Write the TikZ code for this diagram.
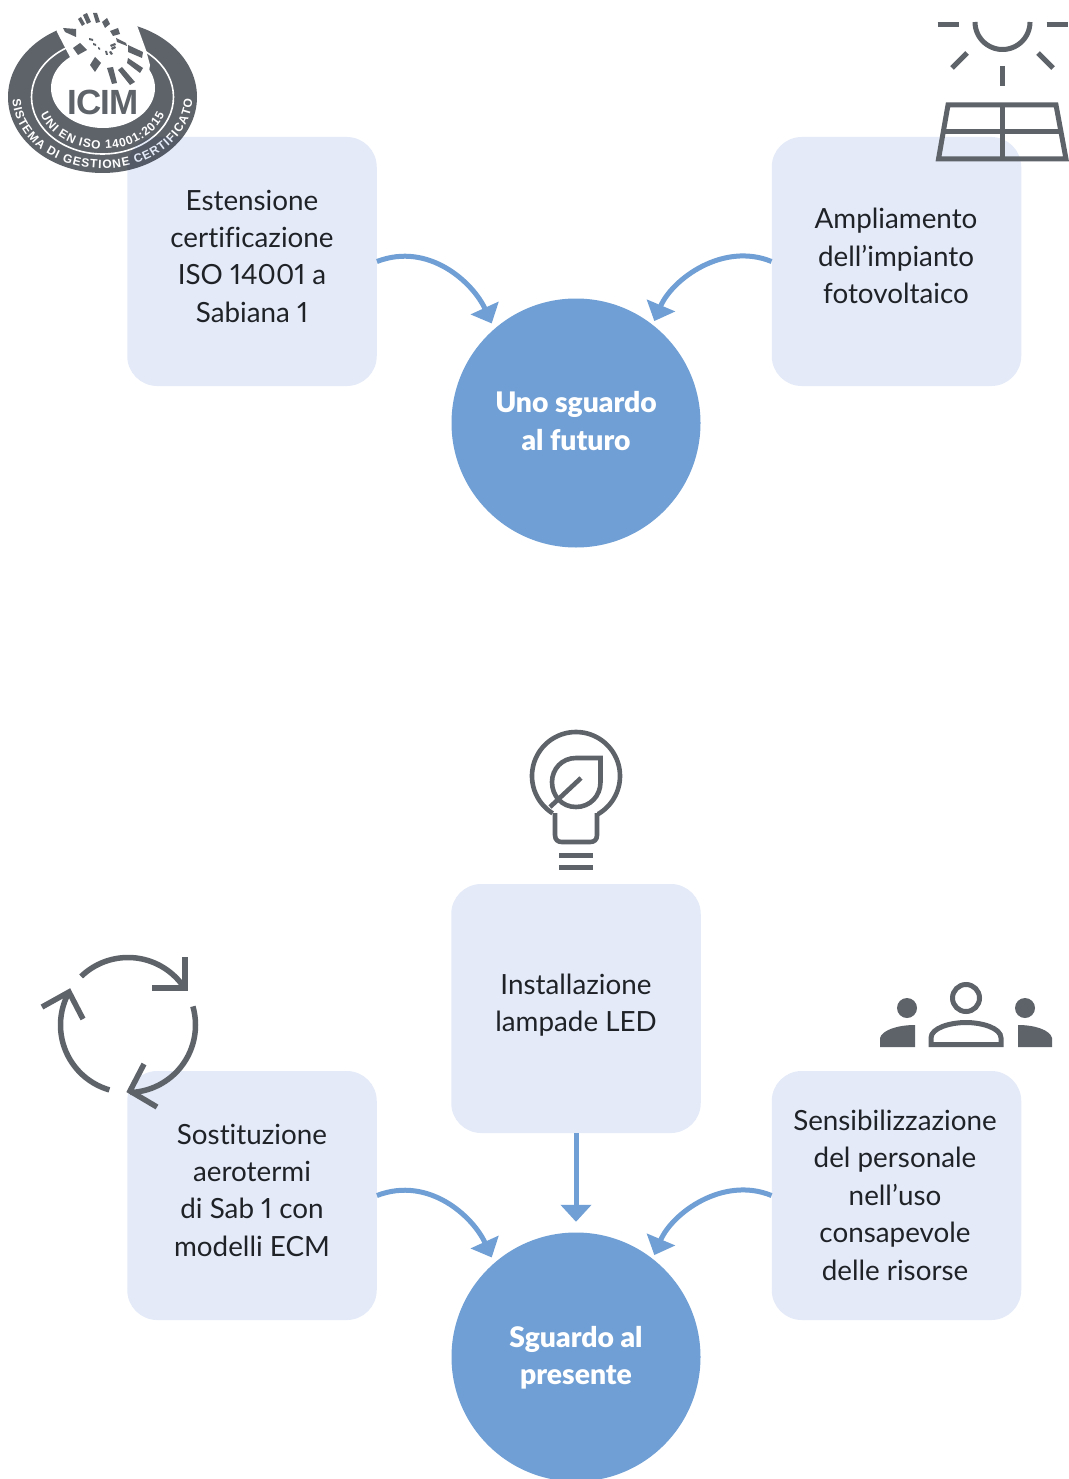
\documentclass[tikz,border=0pt]{standalone}
\usepackage{fontspec}
\usepackage{tikz}
\usetikzlibrary{arrows.meta,decorations.text}
\setmainfont{Lato}[Numbers=Proportional,Ligatures=NoCommon,BoldFont=Lato Black]
\newfontfamily\logofont{Liberation Sans}[BoldFont=* Bold]
\definecolor{boxc}{HTML}{E4EAF8}
\definecolor{blu}{HTML}{6F9FD4}
\definecolor{gr}{HTML}{5E6369}
\definecolor{ink}{HTML}{1F2328}
\newcommand\ms{\rule[-7pt]{0pt}{27pt}}
\newcommand\ltxt{\logofont\bfseries\fontsize{12}{12}\selectfont}
\newcommand\mtxt{\logofont\bfseries\fontsize{12}{12}\selectfont}
\tikzset{
 x=1pt,y=-1pt,
 boxn/.style={fill=boxc,rounded corners=30pt,minimum width=249.5pt,minimum height=249pt,inner sep=0pt},
 hub/.style={circle,fill=blu,minimum size=249pt,inner sep=0pt},
 lab/.style={align=center,text=ink,font=\fontsize{27.8}{37.4}\selectfont,inner sep=0pt},
 hublab/.style={align=center,text=white,font=\bfseries\fontsize{28.3}{37.4}\selectfont,inner sep=0pt},
 conn/.style={draw=blu,line width=5pt,-{Triangle[length=17pt,width=30pt]}},
 icon/.style={draw=gr,line width=5pt},
}
\begin{document}
\begin{tikzpicture}
\useasboundingbox (0,0) rectangle (1068,1479);
\fill[white] (0,0) rectangle (1068,1479);
% ---- ICIM logo
\fill[gr] (102.5,97) ellipse[x radius=94.5pt,y radius=76pt];
\draw[white,line width=1.6pt] (102.5,97) ellipse[x radius=71pt,y radius=57pt];
\fill[white] (103,88) ellipse[x radius=52pt,y radius=40pt];
\fill[white] (57,32) -- (72,61) -- (100,90) -- (148,78) -- (150,65) -- (146,50) -- (138,28) -- (130,5) -- (50,5) -- cycle;
\fill[gr] (63,28) -- (76,29) -- (76,37) -- (65,32) -- cycle;
\fill[gr] (73,48) -- (80,43) -- (87,50) -- (78,55) -- cycle;
\fill[gr] (95,57) -- (101,63) -- (95,72) -- (90,65) -- cycle;
\fill[gr] (78,19) -- (81,17) -- (85,24) -- (82,26) -- cycle;
\fill[gr] (83,15) -- (87,13) -- (91,22) -- (87,24) -- cycle;
\fill[gr] (93,13) -- (97,13) -- (100,22) -- (96,23) -- cycle;
\fill[gr] (102,22) -- (107,18) -- (110,24) -- (105,28) -- cycle;
\fill[gr] (110,31) -- (118,28) -- (120,34) -- (113,36) -- cycle;
\fill[gr] (116,38) -- (126,43) -- (127,46) -- (117,42) -- cycle;
\fill[gr] (128,45) -- (143,52) -- (142,58) -- (128,52) -- cycle;
\fill[gr] (128,58) -- (143,68) -- (140,73) -- (127,63) -- cycle;
\fill[gr] (122,67) -- (135,82) -- (130,85) -- (118,70) -- cycle;
\fill[gr] (107,68) -- (113,67) -- (117,83) -- (112,84) -- cycle;
\fill[gr] (89,38) -- (93,39) -- (93,41) -- (89,40) -- cycle;
\fill[gr] (93,43) -- (96,44) -- (96,46) -- (93,45) -- cycle;
\fill[gr] (98,47) -- (100,48) -- (100,50) -- (98,49) -- cycle;
\fill[gr] (105,51) -- (107,51) -- (108,55) -- (106,55) -- cycle;
\fill[gr] (109,52) -- (111,51) -- (113,54) -- (111,55) -- cycle;
\fill[gr] (111,48) -- (115,46) -- (116,48) -- (112,50) -- cycle;
\fill[gr] (110,45) -- (115,43) -- (116,45) -- (111,47) -- cycle;
\node[text=gr,inner sep=0pt] (icimtext) at (103,102.5) {\logofont\bfseries\fontsize{35}{35}\selectfont\addfontfeature{LetterSpace=-3}ICIM};
\path[decorate,decoration={text along path,text align=fit to path,text={|\ltxt\color{white}|SISTEMA DI GESTIONE CERTIFICATO}}]
  plot[domain=2:178,samples=70] ({102.5-90*cos(\x)},{97+71.5*sin(\x)});
\path[decorate,decoration={text along path,text align=fit to path,text={|\mtxt\color{white}|UNI EN ISO 14001:2015}}]
  plot[domain=20:160,samples=60] ({102.5-66*cos(\x)},{97+52*sin(\x)});
% ---- boxes and hubs
\node[boxn,blend mode=multiply] (certbox) at (252,261.5) {};
\node[boxn] (pvbox) at (896.5,261.5) {};
\node[boxn] (ledbox) at (576,1008.5) {};
\node[boxn] (aerobox) at (252,1195.5) {};
\node[boxn] (staffbox) at (896.5,1195.5) {};
\node[hub] (future) at (576,423) {};
\node[hub] (present) at (576,1357) {};
% ---- texts
\node[lab] (certtxt) at (252,259.5) {\ms Estensione\\certificazione\\ISO 14001 a\\Sabiana 1\ms};
\node[lab] (pvtxt) at (896,259.5) {\ms Ampliamento\\dell’impianto\\fotovoltaico\ms};
\node[lab] (ledtxt) at (576,1006.5) {\ms Installazione\\lampade LED\ms};
\node[lab] (aerotxt) at (252,1193.5) {\ms Sostituzione\\aerotermi\\di Sab 1 con\\modelli ECM\ms};
\node[lab] (stafftxt) at (895,1198.5) {\ms Sensibilizzazione\\del personale\\nell’uso\\consapevole\\delle risorse\ms};
\node[hublab] (futuretxt) at (576,424.5) {\ms Uno sguardo\\al futuro\ms};
\node[hublab] (presenttxt) at (576,1359) {\ms Sguardo al\\presente\ms};
% ---- connectors
\draw[conn,shorten >=6pt] (certbox.east) .. controls +(52,-20) and +(-21,-46) .. (future.131);
\draw[conn,shorten >=4pt] (pvbox.west) .. controls +(-49,-20) and +(19,-45) .. (future.52);
\draw[conn,shorten >=6pt] (aerobox.east) .. controls +(52,-20) and +(-21,-46) .. (present.131);
\draw[conn,shorten >=4pt] (staffbox.west) .. controls +(-49,-20) and +(19,-45) .. (present.52);
\draw[conn,shorten >=10.5pt] (ledbox.south) -- (present.north);
% ---- solar icon
\draw[icon] plot[domain=0:180,samples=40] ({1002.5+27.5*cos(\x)},{22+27.5*sin(\x)});
\draw[icon] (937.5,25) -- (958.5,25);
\draw[icon] (1046.5,25) -- (1067.5,25);
\draw[icon] (967,53) -- (952,68);
\draw[icon] (1038,53) -- (1053,68);
\draw[icon] (1002.5,66) -- (1002.5,86);
\draw[icon] (948,105) -- (1056,105) -- (1066,159) -- (938.5,159) -- cycle;
\draw[icon] (943,132) -- (1062,132);
\draw[icon] (1002.5,105) -- (1002.5,159);
% ---- bulb icon
\draw[icon,line width=4.6pt] (555,813) -- (555,835) .. controls (555,840) and (558,842) .. (562,842) -- (590,842) .. controls (594,842) and (597,840) .. (597,835) -- (597,813);
\draw[icon,line width=4.6pt] plot[domain=122:420,samples=80] ({576+44*cos(\x)},{776+44*sin(\x)});
\draw[icon,line width=4.6pt,line join=miter] (600.5,758) -- (576,758) .. controls (562,758) and (552,769) .. (552,782) .. controls (552,796) and (562,807) .. (576,807) .. controls (590,807) and (600.5,796) .. (600.5,782) -- cycle;
\draw[icon,line width=4.6pt] (550,807) -- (581,778);
\draw[icon] (559,855) -- (593,855);
\draw[icon] (559,867) -- (593,867);
% ---- recycle icon
\draw[icon,line width=5.5pt] plot[domain=226:325,samples=40] ({128+67.5*cos(\x)},{1025+67.5*sin(\x)});
\draw[icon,line width=5.5pt] plot[domain=-16:88,samples=40] ({128+67.5*cos(\x)},{1025+67.5*sin(\x)});
\draw[icon,line width=5.5pt] plot[domain=106:209,samples=40] ({128+67.5*cos(\x)},{1025+67.5*sin(\x)});
\draw[icon,line width=5.5pt] (185,957) -- (185,988) -- (152,988);
\draw[icon,line width=5.5pt] (42,1007) -- (69,992) -- (83,1019);
\draw[icon,line width=5.5pt] (144,1064) -- (130,1091) -- (157,1107);
% ---- people icon
\draw[icon] (966,998) circle[radius=13.5pt];
\draw[icon] (931,1044.5) -- (931,1038) .. controls (931,1028) and (950,1022.5) .. (966,1022.5) .. controls (982,1022.5) and (1001,1028) .. (1001,1038) -- (1001,1044.5) -- cycle;
\fill[gr] (907,1008) circle[radius=10pt];
\fill[gr] (880,1047) -- (880,1038) .. controls (882,1030) and (898,1025) .. (915,1025) -- (915,1047) -- cycle;
\fill[gr] (1025,1008) circle[radius=10pt];
\fill[gr] (1018,1047) -- (1018,1025) .. controls (1035,1025) and (1050,1030) .. (1052,1038) -- (1052,1047) -- cycle;
\end{tikzpicture}
\end{document}
